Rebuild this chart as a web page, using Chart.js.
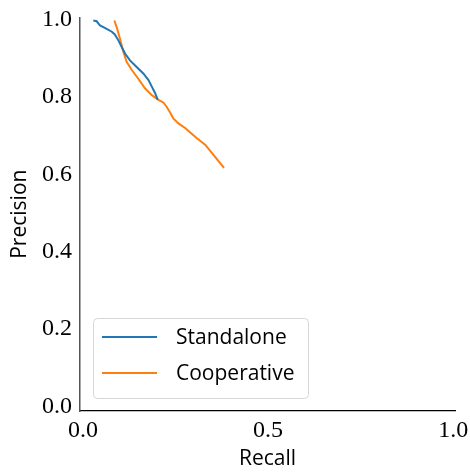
<!DOCTYPE html>
<html>
<head>
<meta charset="utf-8">
<script src="https://cdn.jsdelivr.net/npm/chart.js@4/dist/chart.umd.min.js"></script>
<style>
  html, body { margin: 0; padding: 0; background: #fff; }
  #wrap { width: 470px; height: 472px; }
</style>
</head>
<body>
<div id="wrap"><canvas id="pr"></canvas></div>
<script>
// ----- data -----
const standaloneRecall    = [0.028, 0.037, 0.046, 0.059, 0.078, 0.086, 0.096, 0.105, 0.114, 0.127, 0.145, 0.163, 0.177, 0.186, 0.195, 0.202];
const standalonePrecision = [0.998, 0.996, 0.985, 0.979, 0.969, 0.962, 0.946, 0.929, 0.912, 0.895, 0.878, 0.861, 0.844, 0.827, 0.810, 0.793];
const coopRecall    = [0.085, 0.091, 0.100, 0.109, 0.118, 0.132, 0.149, 0.168, 0.186, 0.204, 0.217, 0.226, 0.235, 0.244, 0.258, 0.276, 0.289, 0.307, 0.330, 0.352, 0.381];
const coopPrecision = [0.998, 0.981, 0.951, 0.917, 0.891, 0.870, 0.848, 0.822, 0.805, 0.793, 0.786, 0.775, 0.761, 0.745, 0.732, 0.720, 0.709, 0.694, 0.677, 0.651, 0.617];
const xTicks = [0, 0.5, 1.0];
const yTicks = [0, 0.2, 0.4, 0.6, 0.8, 1.0];
const seriesNames = ['Standalone', 'Cooperative'];

const pts = (xs, ys) => xs.map((x, i) => ({x, y: ys[i]}));
const serif = '"Liberation Serif", "DejaVu Serif", serif';
const sans = '"Open Sans", "DejaVu Sans", sans-serif';

// legend drawn inside the axes, like the matplotlib one
const innerLegend = {
  id: 'innerLegend',
  afterDraw(chart) {
    const c = chart.ctx;
    const x0 = 93, y0 = 318, w = 215, h = 80;
    c.save();
    c.fillStyle = 'rgba(255,255,255,0.85)';
    c.strokeStyle = '#d6d6d6';
    c.lineWidth = 1;
    c.beginPath();
    c.roundRect(x0 + 0.5, y0 + 0.5, w, h, 4);
    c.fill(); c.stroke();
    chart.data.datasets.forEach((ds, i) => {
      const yy = y0 + 19 + i * 36;
      c.strokeStyle = ds.borderColor;
      c.lineWidth = 2;
      c.beginPath(); c.moveTo(102, yy); c.lineTo(157, yy); c.stroke();
      c.fillStyle = '#000';
      c.font = '21px ' + sans;
      c.textBaseline = 'middle';
      c.fillText(ds.label, 176, yy + 1);
    });
    c.restore();
  }
};

new Chart(document.getElementById('pr'), {
  type: 'scatter',
  data: {
    datasets: [
      {label: seriesNames[0], data: pts(standaloneRecall, standalonePrecision), borderColor: '#1f77b4', backgroundColor: '#1f77b4'},
      {label: seriesNames[1], data: pts(coopRecall, coopPrecision), borderColor: '#ff7f0e', backgroundColor: '#ff7f0e'},
    ].map(d => ({...d, showLine: true, pointRadius: 0, borderWidth: 2, tension: 0}))
  },
  options: {
    responsive: true,
    maintainAspectRatio: false,
    animation: false,
    layout: {padding: {top: 15, right: 15, left: 7, bottom: 0}},
    plugins: {legend: {display: false}, tooltip: {enabled: false}},
    scales: {
      x: {
        type: 'linear', min: -0.008, max: 1.005,
        afterBuildTicks: s => { s.ticks = xTicks.map(v => ({value: v})); },
        afterFit: s => { s.height = 61; },
        grid: {display: false, drawTicks: true, tickLength: 5, tickColor: '#000'},
        border: {display: true, color: '#000', width: 1.2},
        ticks: {color: '#000', font: {family: serif, size: 24}, padding: 0,
                callback: v => v.toFixed(1), maxRotation: 0},
        title: {display: true, text: 'Recall', color: '#000', font: {family: sans, size: 21}, padding: {top: 0, bottom: 0}}
      },
      y: {
        type: 'linear', min: -0.0115, max: 1.006,
        afterBuildTicks: s => { s.ticks = yTicks.map(v => ({value: v})); },
        afterFit: s => { s.width = 73; },
        grid: {display: false, drawTicks: true, tickLength: 5, tickColor: '#000'},
        border: {display: true, color: '#555', width: 1.5},
        ticks: {color: '#000', font: {family: serif, size: 24}, padding: 3,
                callback: v => v.toFixed(1)},
        title: {display: true, text: 'Precision', color: '#000', font: {family: sans, size: 21}, padding: {top: 0, bottom: 0}}
      }
    }
  },
  plugins: [innerLegend]
});
</script>
</body>
</html>
